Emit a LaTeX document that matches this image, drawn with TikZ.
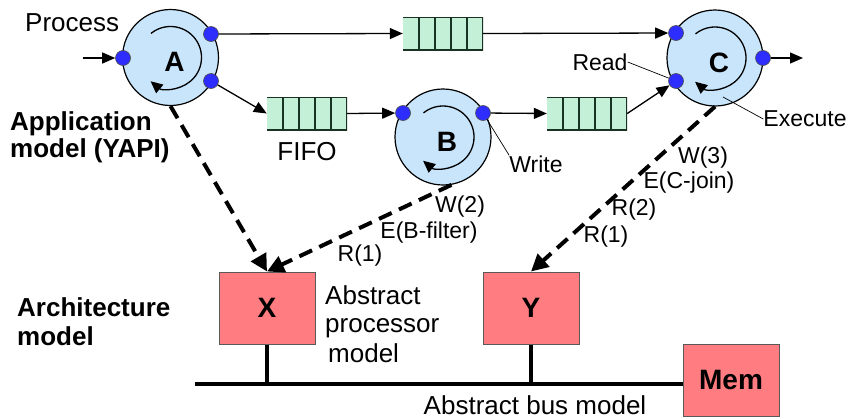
\documentclass[tikz,border=0pt]{standalone}
\usepackage{fontspec}
\setmainfont{Liberation Sans}
\usetikzlibrary{arrows.meta,calc}
\definecolor{procfill}{RGB}{200,229,251}
\definecolor{fifofill}{RGB}{196,240,216}
\definecolor{fifoline}{RGB}{25,50,35}
\definecolor{dotblue}{RGB}{45,45,255}
\definecolor{boxred}{RGB}{255,124,128}
\newcommand{\lblsmall}{\fontsize{23}{27}\selectfont}
\newcommand{\lblmid}{\fontsize{26}{30}\selectfont}
\newcommand{\lblbig}{\fontsize{28}{32}\selectfont\bfseries}
\newcommand{\plbl}[1]{\hspace{8pt}\raisebox{-4.5pt}[\height][\depth]{#1}}
\begin{document}
\begin{tikzpicture}[x=1pt,y=-1pt,
  proc/.style={circle, draw=black, line width=1.2pt, minimum size=96pt, inner sep=0pt,
    fill=procfill, font=\lblbig},
  port/.style={circle, fill=dotblue, draw=black!70, line width=0.6pt, minimum size=15pt, inner sep=0pt},
  fifo/.style={rectangle, minimum width=80pt, minimum height=33pt, inner sep=0pt,
    fill=fifofill,
    path picture={
      \foreach \i in {1,2,3,4}{
        \draw[fifoline,line width=1.2pt]
          ($(path picture bounding box.north west)!\i/5!(path picture bounding box.north east)$) --
          ($(path picture bounding box.south west)!\i/5!(path picture bounding box.south east)$);}
      \draw[fifoline,line width=2.8pt] (path picture bounding box.north west) --
        (path picture bounding box.north east) -- (path picture bounding box.south east) --
        (path picture bounding box.south west);
    }},
  hw/.style={rectangle, fill=boxred, draw=black!65, line width=1pt, minimum width=96pt,
    minimum height=72pt, inner sep=0pt, font=\lblbig},
  flow/.style={line width=1.3pt, -{Triangle[length=13pt,width=11pt]}},
  spin/.style={line width=1.3pt, -{Triangle[length=12pt,width=11pt]}},
  map/.style={line width=4pt, dash pattern=on 14pt off 8pt, -{Triangle[length=17pt,width=17pt]}},
  lead/.style={line width=0.7pt},
  bus/.style={line width=4pt},
  lblS/.style={font=\lblsmall, inner sep=0pt},
  lblM/.style={font=\lblmid, inner sep=0pt},
  lblB/.style={font=\lblmid\bfseries, inner sep=0pt}
]
\useasboundingbox (0,0) rectangle (851,418);

% processes
\node[proc] (A) at (170.5,57.5) {\plbl{A}};
\node[proc] (B) at (443,137) {\plbl{B}};
\node[proc] (C) at (715,58) {\plbl{C}};

% inner rotation arrows
\foreach \n in {A,B,C}
  \draw[spin] ([shift={(-129:31)}]\n.center) arc[start angle=-129, end angle=130, radius=31];

% FIFOs
\node[fifo] (F1) at (443,33.5) {};
\node[fifo] (F2) at (307,113.5) {};
\node[fifo] (F3) at (587,113.5) {};

% ports
\node[port] (Ain) at (123,58) {};
\node[port] (Ao1) at (211,34) {};
\node[port] (Ao2) at (211,81) {};
\node[port] (Bin) at (403,113) {};
\node[port] (Bout) at (483,113) {};
\node[port] (Ci1) at (676,33) {};
\node[port] (Ci2) at (676,81) {};
\node[port] (Cout) at (763,58) {};

\coordinate (inA) at (83,58);
\coordinate (outC) at (803,58);

% channel arrows
\draw[flow] (inA) -- (Ain);
\draw[flow] (Ao1) -- (F1.west);
\draw[flow] (F1.east) -- (Ci1);
\draw[flow] (Ao2) -- (F2.west);
\draw[flow] (F2.east) -- (Bin);
\draw[flow] (Bout) -- (F3.west);
\draw[flow] (F3.east) -- (Ci2);
\draw[flow] (Cout) -- (outC);

% architecture
\node[hw] (X) at (267,308) {X};
\node[hw] (Y) at (531,308) {Y};
\node[hw] (M) at (731,380) {Mem};
\coordinate (busL) at (195,384);
\draw[bus] (busL) -- (busL -| M.west);
\draw[bus] (X.south) -- (X.south |- busL);
\draw[bus] (Y.south) -- (Y.south |- busL);

% mapping arrows
\draw[map] (A.south) -- (X.north);
\draw[map] (B.-80) -- (X.north);
\draw[map] (C.south) -- (Y.north);

% labels
\node[lblM, anchor=base west] (proc) at (25,31) {Process};
\node[lblB, anchor=base west] (app1) at (10,130) {Application};
\node[lblB, anchor=base west] (app2) at (10,157) {model (YAPI)};
\node[lblB, anchor=base west] (arc1) at (17,316) {Architecture};
\node[lblB, anchor=base west] (arc2) at (17,345) {model};
\node[lblM, anchor=base] (fifo) at (307,160) {FIFO};
\node[lblM, anchor=base west] (ap1) at (325,304) {Abstract};
\node[lblM, anchor=base west] (ap2) at (325,332) {processor};
\node[lblM, anchor=base west] (ap3) at (328,362) {model};
\node[lblM, anchor=base] (absbus) at (535,414) {Abstract bus model};

\node[lblS] (read) at (600,62) {Read};
\node[lblS] (write) at (536,164) {Write};
\node[lblS] (exec) at (805,119) {Execute};

\draw[lead] (read.east) -- (Ci2);
\draw[lead] (Bout) -- (write.north west);
\coordinate (exe0) at ([shift={(8,39)}]C.center);
\draw[lead] (exe0) -- (exec.west);

\node[lblS] (w2) at (460,207) {W(2)};
\node[lblS] (eb) at (429,233) {E(B-filter)};
\node[lblS] (r1b) at (360,256) {R(1)};
\node[lblS] (w3) at (703,158) {W(3)};
\node[lblS] (ec) at (689,183) {E(C-join)};
\node[lblS] (r2c) at (634,210) {R(2)};
\node[lblS] (r1c) at (606,237) {R(1)};
\end{tikzpicture}
\end{document}
